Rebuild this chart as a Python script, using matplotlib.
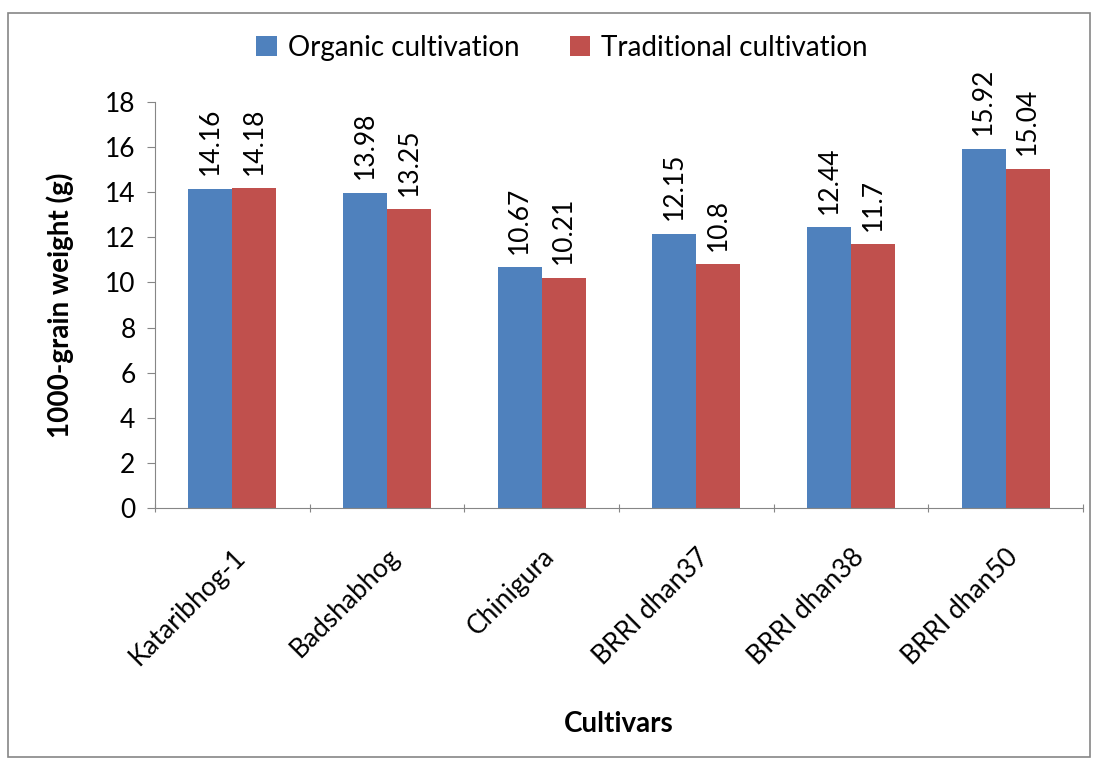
import numpy as np
import matplotlib.pyplot as plt
from matplotlib.patches import Rectangle

# Data
cultivars = ['Kataribhog-1', 'Badshabhog', 'Chinigura', 'BRRI dhan37', 'BRRI dhan38', 'BRRI dhan50']
organic = [14.16, 13.98, 10.67, 12.15, 12.44, 15.92]
traditional = [14.18, 13.25, 10.21, 10.8, 11.7, 15.04]
organic_lbl = ['14.16', '13.98', '10.67', '12.15', '12.44', '15.92']
traditional_lbl = ['14.18', '13.25', '10.21', '10.8', '11.7', '15.04']

plt.rcParams['font.family'] = ['Lato', 'DejaVu Sans']

fig = plt.figure(figsize=(10.98, 7.60), dpi=100)
ax = fig.add_axes([155 / 1098, 1 - 508 / 760, 928 / 1098, 406 / 760])

# outer chart border
fig.patches.append(Rectangle((8 / 1098, 1 - 757 / 760), 1082 / 1098, 744 / 760,
                             transform=fig.transFigure, fill=False,
                             edgecolor='#868686', linewidth=1.2))

x = np.arange(len(cultivars)) + 0.5
w = 0.284
b1 = ax.bar(x - w / 2, organic, w, color='#4F81BD', label='Organic cultivation')
b2 = ax.bar(x + w / 2, traditional, w, color='#C0504D', label='Traditional cultivation')

for bars, labels in [(b1, organic_lbl), (b2, traditional_lbl)]:
    for bar, lbl in zip(bars, labels):
        ax.text(bar.get_x() + bar.get_width() / 2, bar.get_height() + 0.6, lbl,
                rotation=90, ha='center', va='bottom', fontsize=19)

ax.set_xlim(0, 6)
ax.set_ylim(0, 18)
ax.set_yticks(range(0, 19, 2))
ax.set_xticks(np.arange(0, 7))
ax.set_xticklabels([])
ax.set_xticks(x, minor=True)
ax.set_xticklabels(cultivars, minor=True, rotation=45, ha='right', va='top',
                   rotation_mode='anchor', fontsize=19)
ax.tick_params(axis='x', which='minor', length=0, pad=26)
ax.tick_params(axis='x', which='major', length=6, color='#868686', direction='inout')
ax.tick_params(axis='y', length=6, color='#868686', direction='out', labelsize=19, pad=8)

for s in ['top', 'right']:
    ax.spines[s].set_visible(False)
for s in ['left', 'bottom']:
    ax.spines[s].set_color('#868686')

ax.set_ylabel('1000-grain weight (g)', fontsize=20, fontweight='bold', labelpad=22)
ax.set_xlabel('Cultivars', fontsize=20, fontweight='bold', labelpad=30)

fig.legend(handles=[b1, b2], loc='center', bbox_to_anchor=(562 / 1098, 1 - 48 / 760),
           ncol=2, frameon=False, fontsize=20, handlelength=0.75, handleheight=0.75,
           handletextpad=0.4, columnspacing=1.8)

fig.savefig('out.png', dpi=100)
